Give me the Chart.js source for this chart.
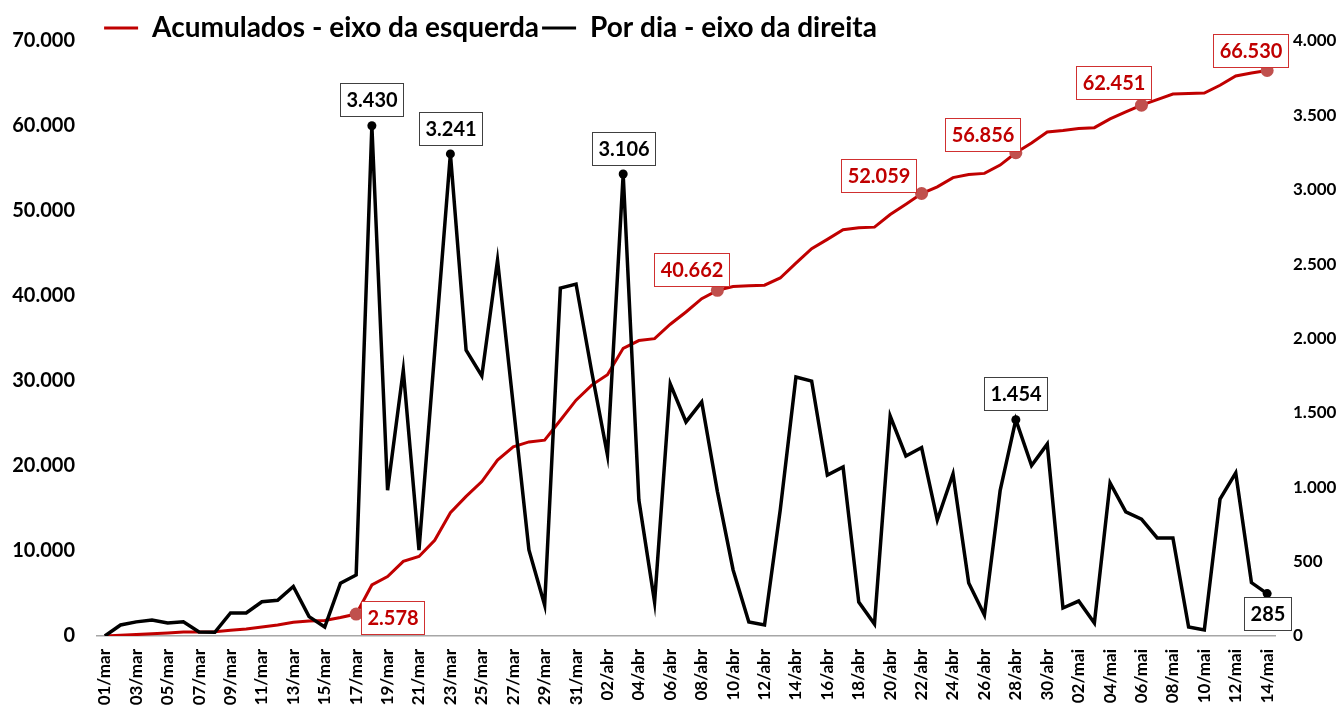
<!DOCTYPE html>
<html>
<head>
<meta charset="utf-8">
<script src="https://cdn.jsdelivr.net/npm/chart.js@4.4.1/dist/chart.umd.min.js"></script>
<style>
  html, body { margin: 0; padding: 0; background: #fff; }
  #wrap { width: 1341px; height: 709px; }
</style>
</head>
<body>
<div id="wrap"><canvas id="casosChart"></canvas></div>
<script>
// dias de 01/mar a 14/mai
var dias = [
  "01/mar", "02/mar", "03/mar", "04/mar", "05/mar", "06/mar", "07/mar", "08/mar", "09/mar", "10/mar",
  "11/mar", "12/mar", "13/mar", "14/mar", "15/mar", "16/mar", "17/mar", "18/mar", "19/mar", "20/mar",
  "21/mar", "22/mar", "23/mar", "24/mar", "25/mar", "26/mar", "27/mar", "28/mar", "29/mar", "30/mar",
  "31/mar", "01/abr", "02/abr", "03/abr", "04/abr", "05/abr", "06/abr", "07/abr", "08/abr", "09/abr",
  "10/abr", "11/abr", "12/abr", "13/abr", "14/abr", "15/abr", "16/abr", "17/abr", "18/abr", "19/abr",
  "20/abr", "21/abr", "22/abr", "23/abr", "24/abr", "25/abr", "26/abr", "27/abr", "28/abr", "29/abr",
  "30/abr", "01/mai", "02/mai", "03/mai", "04/mai", "05/mai", "06/mai", "07/mai", "08/mai", "09/mai",
  "10/mai", "11/mai", "12/mai", "13/mai", "14/mai"
];

// acumulados (eixo da esquerda)
var acumulados = [
  0, 74, 169, 276, 363, 458, 485, 510, 665, 820,
  1050, 1290, 1623, 1753, 1813, 2168, 2578, 6008, 6988, 8776,
  9354, 11263, 14504, 16426, 18174, 20701, 22254, 22832, 23040, 25379,
  27745, 29520, 30737, 33843, 34757, 34985, 36679, 38118, 39691, 40662,
  41106, 41200, 41274, 42121, 43862, 45576, 46658, 47794, 48022, 48103,
  49582, 50792, 52059, 52839, 53928, 54284, 54425, 55402, 56856, 58002,
  59292, 59480, 59715, 59802, 60831, 61665, 62451, 63110, 63769, 63829,
  63869, 64790, 65886, 66245, 66530
];

// por dia (eixo da direita)
var porDia = [
  0, 74, 95, 107, 87, 95, 27, 25, 155, 155,
  230, 240, 333, 130, 60, 355, 410, 3430, 980, 1788,
  578, 1909, 3241, 1922, 1748, 2527, 1553, 578, 208, 2339,
  2366, 1775, 1217, 3106, 914, 228, 1694, 1439, 1573, 971,
  444, 94, 74, 847, 1741, 1714, 1082, 1136, 228, 81,
  1479, 1210, 1267, 780, 1089, 356, 141, 977, 1454, 1146,
  1290, 188, 235, 87, 1029, 834, 786, 659, 659, 60,
  40, 921, 1096, 359, 285
];

var ticksEsquerda = [0, 10000, 20000, 30000, 40000, 50000, 60000, 70000];
var ticksDireita = [0, 500, 1000, 1500, 2000, 2500, 3000, 3500, 4000];

// pontos com rotulo
var rotulosAcumulados = [16, 39, 52, 58, 66, 74];
var rotulosPorDia = [17, 22, 33, 58, 74];

var VERMELHO = '#c00000';

function fmt(v) {
  return String(v).replace(/\B(?=(\d{3})+(?!\d))/g, '.');
}

function raios(indices, r) {
  return dias.map(function (d, i) { return indices.indexOf(i) >= 0 ? r : 0; });
}

// deslocamento das caixas de rotulo (px) em relacao ao ponto
var posRotulos = [
  { ds: 0, i: 16, dx: 36, dy: 3 },
  { ds: 0, i: 39, dx: -26, dy: -21 },
  { ds: 0, i: 52, dx: -43, dy: -18 },
  { ds: 0, i: 58, dx: -33, dy: -18 },
  { ds: 0, i: 66, dx: -28, dy: -23 },
  { ds: 0, i: 74, dx: -17, dy: -20 },
  { ds: 1, i: 17, dx: 0, dy: -26 },
  { ds: 1, i: 22, dx: 0, dy: -25 },
  { ds: 1, i: 33, dx: 0, dy: -25 },
  { ds: 1, i: 58, dx: 0, dy: -26 },
  { ds: 1, i: 74, dx: 0, dy: 20 }
];

var rotulosPlugin = {
  id: 'rotulos',
  afterDatasetsDraw: function (chart) {
    var ctx = chart.ctx;
    ctx.save();
    ctx.font = 'bold 20px Lato';
    ctx.textAlign = 'center';
    ctx.textBaseline = 'middle';
    posRotulos.forEach(function (r) {
      var pt = chart.getDatasetMeta(r.ds).data[r.i];
      var txt = fmt(chart.data.datasets[r.ds].data[r.i]);
      var cor = r.ds === 0 ? VERMELHO : '#000';
      var w = Math.round(ctx.measureText(txt).width + 12);
      var h = 33;
      var x0 = Math.round(pt.x + r.dx - w / 2) + 0.5;
      var y0 = Math.round(pt.y + r.dy - h / 2) + 0.5;
      ctx.fillStyle = '#fff';
      ctx.fillRect(x0, y0, w, h);
      ctx.lineWidth = 1;
      ctx.strokeStyle = r.ds === 0 ? '#d03030' : '#404040';
      ctx.strokeRect(x0, y0, w, h);
      ctx.fillStyle = cor;
      ctx.fillText(txt, x0 + w / 2, y0 + h / 2 + 1);
    });
    ctx.restore();
  }
};

// legenda mais a esquerda, como no original
var legendaPlugin = {
  id: 'legendaPos',
  afterLayout: function (chart) {
    var l = chart.legend;
    l.left -= 180; l.right -= 180;
    l.top += 11; l.bottom += 11;
  }
};

var ctx = document.getElementById('casosChart').getContext('2d');
var casosChart = new Chart(ctx, {
  type: 'line',
  data: {
    labels: dias,
    datasets: [{
      label: 'Acumulados - eixo da esquerda',
      data: acumulados,
      yAxisID: 'y',
      borderColor: VERMELHO,
      backgroundColor: VERMELHO,
      borderWidth: 3,
      pointRadius: raios(rotulosAcumulados, 6.5),
      pointBackgroundColor: '#c0504d',
      pointBorderWidth: 0,
      tension: 0,
      order: 2
    }, {
      label: 'Por dia - eixo da direita',
      data: porDia,
      yAxisID: 'y1',
      borderColor: '#000',
      backgroundColor: '#000',
      borderWidth: 3.5,
      pointRadius: raios(rotulosPorDia, 4.5),
      pointBackgroundColor: '#000',
      pointBorderWidth: 0,
      tension: 0,
      order: 1
    }]
  },
  options: {
    responsive: true,
    maintainAspectRatio: false,
    animation: false,
    layout: { padding: 0 },
    plugins: {
      tooltip: { enabled: false },
      legend: {
        position: 'top',
        labels: {
          color: '#000',
          font: { family: 'Lato', size: 28, weight: 'bold' },
          boxWidth: 34,
          boxHeight: 3,
          padding: 3,
          generateLabels: function (chart) {
            var itens = Chart.defaults.plugins.legend.labels.generateLabels(chart);
            itens.sort(function (a, b) { return a.datasetIndex - b.datasetIndex; });
            itens.forEach(function (it) { it.lineWidth = 0; it.fillStyle = it.strokeStyle; });
            return itens;
          }
        }
      }
    },
    scales: {
      x: {
        offset: true,
        grid: { display: false, drawTicks: false },
        border: { display: true, color: '#a6a6a6', width: 1.5 },
        ticks: {
          autoSkip: false,
          minRotation: 90,
          maxRotation: 90,
          padding: 13,
          color: '#000',
          font: { family: 'Lato', size: 17, weight: 'bold' },
          callback: function (v, i) { return i % 2 === 0 ? dias[i] : ''; }
        },
        afterFit: function (scale) { scale.height = 73; }
      },
      y: {
        position: 'left',
        min: 0,
        max: 70000,
        grid: { display: false, drawTicks: false },
        border: { display: false },
        afterBuildTicks: function (scale) {
          scale.ticks = ticksEsquerda.map(function (v) { return { value: v }; });
        },
        ticks: {
          padding: 22,
          color: '#000',
          font: { family: 'Lato', size: 20, weight: 'bold' },
          callback: function (v) { return fmt(v); }
        },
        afterFit: function (scale) { scale.width = 97; }
      },
      y1: {
        position: 'right',
        min: 0,
        max: 4000,
        grid: { display: false, drawTicks: false },
        border: { display: false },
        afterBuildTicks: function (scale) {
          scale.ticks = ticksDireita.map(function (v) { return { value: v }; });
        },
        ticks: {
          padding: 18,
          color: '#000',
          font: { family: 'Lato', size: 17, weight: 'bold' },
          callback: function (v) { return fmt(v); }
        },
        afterFit: function (scale) { scale.width = 66; }
      }
    }
  },
  plugins: [rotulosPlugin, legendaPlugin]
});
</script>
</body>
</html>
